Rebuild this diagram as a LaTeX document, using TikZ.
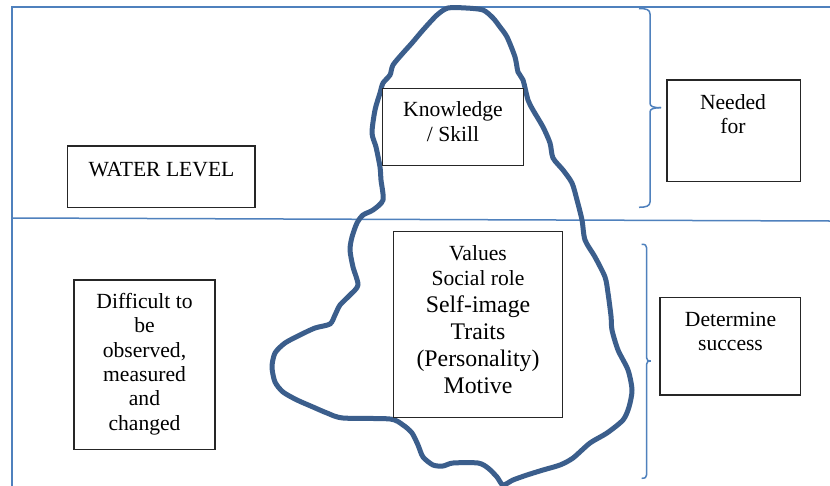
\documentclass[tikz,border=0pt]{standalone}
\usepackage{fontspec}
\setmainfont{Liberation Serif}
\definecolor{frameblue}{RGB}{79,129,189}
\definecolor{bergblue}{RGB}{59,94,140}
\begin{document}
\begin{tikzpicture}[x=1pt,y=-1pt,
  frameline/.style={draw=frameblue, line width=1.5pt},
  box/.style={draw=black!85, fill=white, line width=1.1pt, rectangle, inner sep=0pt},
  lbl/.style={anchor=base, align=center, inner sep=0pt, font=\fontsize{21.6}{24.3}\selectfont},
  biglbl/.style={anchor=base, align=center, inner sep=0pt, font=\fontsize{23.8}{27}\selectfont},
  berg/.style={draw=bergblue, line width=5pt, line join=round, line cap=round},
  bracepath/.style={draw=frameblue, line width=1.5pt}]
\useasboundingbox (0,0) rectangle (830,485);
\fill[white] (0,0) rectangle (830,485);

% frame and water line
\draw[frameline] (830,7) -- (12,7) -- (12,486);
\draw[frameline] (12,218) -- (830,221);

% iceberg
\draw[berg] plot[smooth cycle, tension=0.45] coordinates {
(448,8) (466,8) (483,10) (493,18) (500,27) (507,37) (515,57) (518,72) (523,80)
(528,100) (533,110) (543,127) (550,143) (553,158) (563,170) (572,183) (577,200)
(582,220) (585,240) (595,257) (605,277) (608,293) (611,316) (612,330) (618,350)
(628,370) (632,390) (629,407) (623,420) (607,433) (590,443) (573,458) (560,465)
(543,470) (527,475) (513,480) (503,485) (497,477) (488,468) (478,463) (453,463)
(443,466) (433,465) (423,457) (418,445) (412,433) (403,425) (390,419) (343,418)
(327,413) (313,407) (297,400) (283,392) (275,382) (272,367) (275,353) (285,343)
(300,335) (315,328) (330,324) (335,315) (340,305) (350,295) (358,285) (353,267)
(350,250) (352,237) (357,223) (363,215) (373,210) (383,200) (381,180) (380,167)
(376,147) (372,133) (375,110) (380,93) (383,83) (390,75) (393,65) (403,53)
(412,43) (423,30) (437,15)};

% braces
\draw[bracepath] (639,8.5) .. controls (646,8.5) and (650,9.5) .. (650,14) -- (650,103)
  .. controls (650,106.5) and (653,107.7) .. (661,107.7);
\draw[bracepath] (661,107.7) .. controls (653,107.7) and (650,109) .. (650,112) -- (650,202)
  .. controls (650,206) and (646,207.3) .. (639,207.3);
\draw[bracepath] (641.7,244.3) .. controls (645,244.3) and (646.7,245) .. (646.7,248) -- (646.7,358)
  .. controls (646.7,360.5) and (648,361) .. (650.7,361);
\draw[bracepath] (650.7,361) .. controls (648,361) and (646.7,361.5) .. (646.7,364) -- (646.7,474.5)
  .. controls (646.7,477.5) and (645,478.3) .. (641.7,478.3);

% boxes
\node[box, minimum width=187.3pt, minimum height=61.7pt] (wl) at (161.35,176.85) {};
\node[box, minimum width=141pt, minimum height=77pt] (ks) at (452.8,126.8) {};
\node[box, minimum width=133.7pt, minimum height=101.7pt] (nf) at (733.85,130.85) {};
\node[box, minimum width=140.7pt, minimum height=97.3pt] (ds) at (730.35,346.35) {};
\node[box, minimum width=141pt, minimum height=169.3pt] (df) at (144.5,364.65) {};
\node[box, minimum width=169.4pt, minimum height=186pt] (vb) at (478,324.7) {};

% texts (anchor=base sits on the last line's baseline)
\node[lbl] (wlt) at (161.5,176.5) {WATER LEVEL};
\node[lbl, font=\fontsize{21.6}{25}\selectfont] (kst) at (453,141.7) {Knowledge\\/ Skill};
\node[lbl] (nft) at (733,133.3) {Needed\\for};
\node[lbl] (dst) at (730.5,350.7) {Determine\\success};
\node[lbl] (dft) at (144.5,430) {Difficult to\\be\\observed,\\measured\\and\\changed};
\node[lbl] (vbt1) at (478,285) {Values\\Social role};
\node[biglbl] (vbt2) at (478,393.3) {Self-image\\Traits\\(Personality)\\Motive};
\end{tikzpicture}
\end{document}
